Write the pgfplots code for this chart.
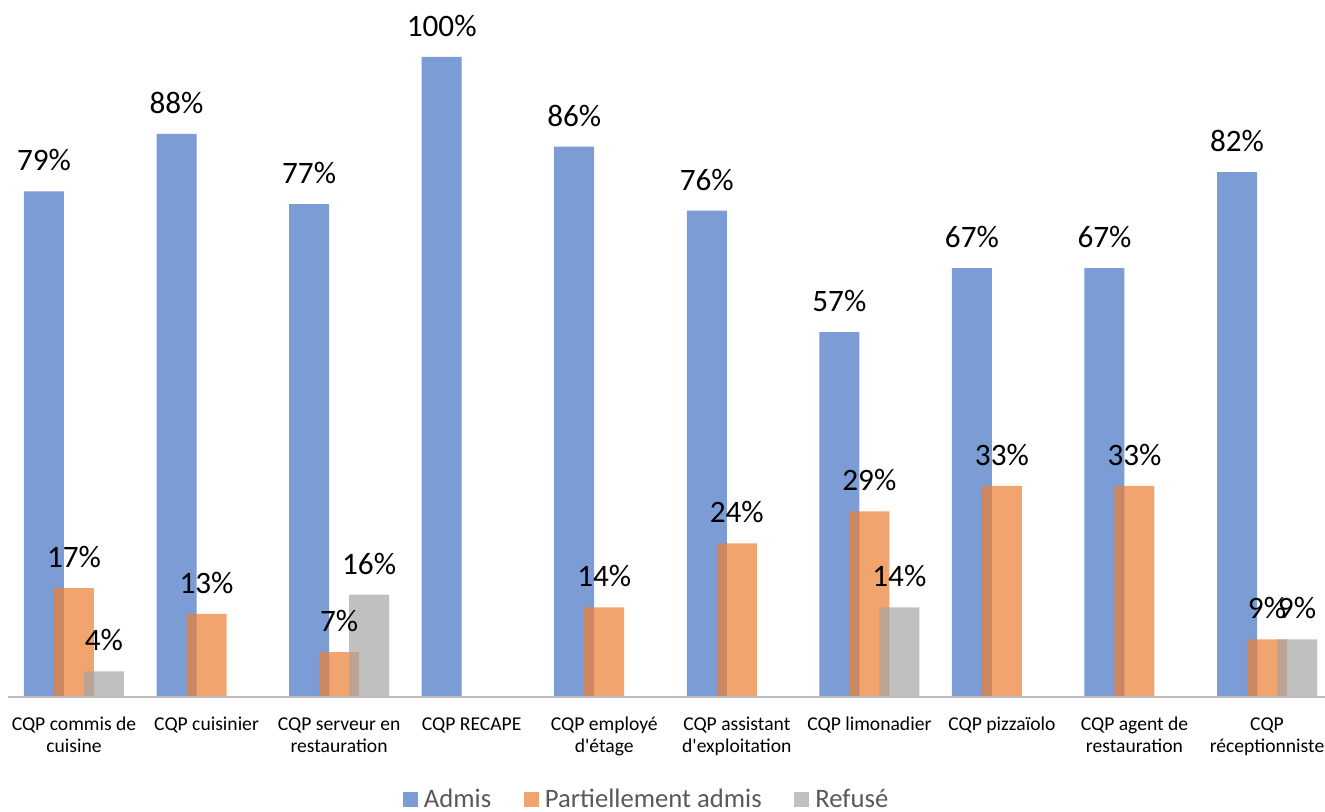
\documentclass[border=0pt]{standalone}
\usepackage{pgfplots}
\pgfplotsset{compat=1.18}
\usepackage{pgfplotstable}
\usepackage{fontspec}
\setmainfont{Carlito}
% same face without TeX ligature mapping, for a straight apostrophe
\newfontfamily\plainfont{Carlito}
\newcommand{\apos}{{\plainfont'}}

\definecolor{admis}{HTML}{4472C4}
\definecolor{partiel}{HTML}{ED7D31}
\definecolor{refuse}{HTML}{A5A5A5}
\definecolor{legendtext}{HTML}{595959}
\definecolor{axisline}{HTML}{BFBFBF}

% results per CQP (in %)
\pgfplotstableread{
cat adm part ref
0   79  17   4
1   88  13   0
2   77   7  16
3  100   0   0
4   86  14   0
5   76  24   0
6   57  29  14
7   67  33   0
8   67  33   0
9   82   9   9
}\resultats

\begin{document}
\begin{tikzpicture}
\useasboundingbox (0,0) rectangle (993.75pt,608.25pt);
\begin{axis}[
  at={(5.78pt,85.5pt)}, anchor=south west,
  scale only axis, width=994.2pt, height=480pt,
  xmin=-0.5, xmax=9.5, ymin=0, ymax=100,
  clip=false,
  axis line style={draw=none},
  ytick=\empty,
  xtick={0,...,9},
  major tick length=0pt,
  typeset ticklabels with strut,
  xticklabels={
    {CQP commis de\\cuisine},
    {CQP cuisinier},
    {CQP serveur en\\restauration},
    {CQP RECAPE},
    {CQP employé\\d\apos étage},
    {CQP assistant\\d\apos exploitation},
    {CQP limonadier},
    {CQP pizzaïolo},
    {CQP agent de\\restauration},
    {CQP\\réceptionniste}},
  xticklabel style={font=\fontsize{14.7}{16.5}\selectfont, align=center,
    text=black, anchor=north, inner sep=0pt, yshift=-13.2pt},
  /pgf/number format/assume math mode=true,
  ybar, bar width=30pt,
  every axis plot/.append style={draw=none, fill opacity=0.7},
  nodes near coords={\pgfmathfloatifflags{\pgfplotspointmeta}{0}{}{\pgfmathprintnumber{\pgfplotspointmeta}\%}},
  every node near coord/.append style={font=\fontsize{23.4}{28}\selectfont,
    text=black, text opacity=1, anchor=south, inner sep=0pt, yshift=15pt},
  legend columns=3,
  legend style={at={(0.4825,-0.1595)}, anchor=center, draw=none, fill=none,
    font=\fontsize{20}{23}\selectfont, text=legendtext, text opacity=1,
    nodes={inner xsep=2.5pt, inner ysep=1pt},
    /tikz/every odd column/.append style={column sep=2pt},
    /tikz/every even column/.append style={column sep=22pt}},
  legend image code/.code={\fill[#1] (0pt,-5.625pt) rectangle (11.25pt,5.625pt);},
]
\addplot[fill=admis, bar shift=-22.5pt] table[x=cat, y=adm] {\resultats};
\addplot[fill=partiel, bar shift=0pt] table[x=cat, y=part] {\resultats};
\addplot[fill=refuse, bar shift=22.5pt] table[x=cat, y=ref] {\resultats};
\legend{Admis, Partiellement admis, Refusé}
% category axis line
\draw[axisline, line width=1.5pt] (axis cs:-0.5,0) -- (axis cs:9.5,0);
\end{axis}
\end{tikzpicture}
\end{document}
